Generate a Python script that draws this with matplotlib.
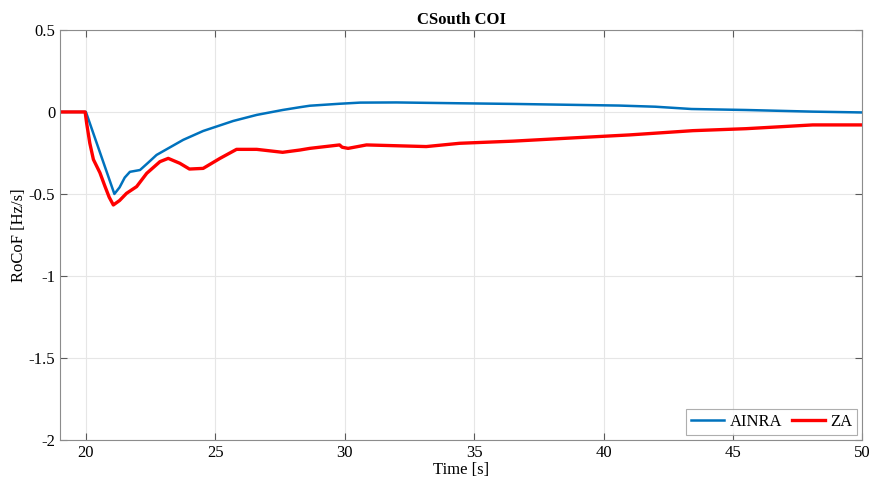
import numpy as np
import matplotlib.pyplot as plt

# AINRA curve
t_ainra = [19.0, 20.0, 21.1, 21.3, 21.5, 21.7, 22.09, 22.4, 22.73, 23.2, 23.76, 24.53,
           25.69, 26.6, 27.6, 28.27, 28.65, 29.8, 30.6, 32.0, 34.4, 36.5, 38.95,
           40.6, 42.0, 43.4, 45.5, 48.07, 50.0]
y_ainra = [0.0, 0.0, -0.50, -0.46, -0.40, -0.365, -0.354, -0.31, -0.262, -0.22, -0.17, -0.116,
           -0.055, -0.018, 0.012, 0.029, 0.038, 0.05, 0.057, 0.058, 0.053, 0.049, 0.043,
           0.039, 0.032, 0.018, 0.012, 0.002, -0.003]

# ZA curve
t_za = [19.0, 19.97, 20.03, 20.15, 20.29, 20.54, 20.74, 20.9, 21.06, 21.3, 21.57,
        21.96, 22.35, 22.86, 23.18, 23.63, 24.0, 24.53, 25.18, 25.82, 26.6, 27.6,
        28.27, 28.65, 29.8, 29.9, 30.13, 30.84, 33.15, 34.44, 36.5, 38.95, 41.0,
        43.45, 45.5, 48.08, 50.0]
y_za = [0.0, 0.0, -0.07, -0.19, -0.29, -0.37, -0.455, -0.52, -0.567, -0.54, -0.496,
        -0.455, -0.374, -0.303, -0.283, -0.313, -0.348, -0.344, -0.283, -0.228, -0.228, -0.246,
        -0.232, -0.222, -0.201, -0.215, -0.222, -0.201, -0.211, -0.191, -0.178, -0.157, -0.14,
        -0.114, -0.102, -0.079, -0.079]

plt.rcParams.update({
    "font.family": "Liberation Serif",
    "font.size": 12,
})

fig = plt.figure(figsize=(8.75, 4.83), dpi=100)
ax = fig.add_axes([0.0686, 0.089, 0.917, 0.849])

ax.plot(t_ainra, y_ainra, color="#0072BD", linewidth=1.8, label="AINRA")
ax.plot(t_za, y_za, color="#FF0000", linewidth=2.4, label="ZA")

ax.set_xlim(19, 50)
ax.set_ylim(-2, 0.5)
ax.set_xticks([20, 25, 30, 35, 40, 45, 50])
ax.set_yticks([-2, -1.5, -1, -0.5, 0, 0.5])
ax.set_yticklabels(["-2", "-1.5", "-1", "-0.5", "0", "0.5"])
ax.grid(True, color="#e6e6e6", linewidth=0.8)
ax.set_axisbelow(True)
ax.tick_params(direction="in", top=True, right=True, color="#5a5a5a",
               labelsize=12, length=5)
for s in ax.spines.values():
    s.set_color("#8c8c8c")
    s.set_linewidth(0.8)

ax.set_title("CSouth COI", fontweight="bold", fontsize=12, pad=4)
ax.set_xlabel("Time [s]", fontsize=12, labelpad=1)
ax.set_ylabel("RoCoF [Hz/s]", fontsize=12, labelpad=1)

leg = ax.legend(loc="lower right", ncol=2, frameon=True, fancybox=False,
                handlelength=2.0, handletextpad=0.3, columnspacing=0.6,
                borderpad=0.3, fontsize=12, borderaxespad=0.3)
leg.get_frame().set_edgecolor("#9a9a9a")
leg.get_frame().set_linewidth(0.8)

fig.savefig("out.png", dpi=100)
plt.close()
